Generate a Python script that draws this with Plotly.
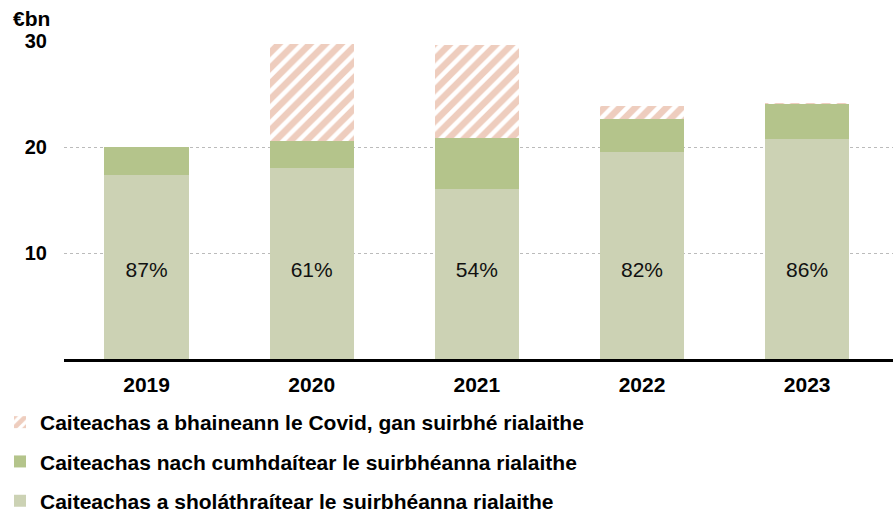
import plotly.graph_objects as go

years = ["2019", "2020", "2021", "2022", "2023"]
regulated = [17.4, 18.0, 16.0, 19.5, 20.8]
not_covered = [2.6, 2.6, 4.85, 3.1, 3.3]
covid = [0.0, 9.1, 8.75, 1.25, 0.05]
pct_labels = ["87%", "61%", "54%", "82%", "86%"]
label_y = [8.2] * 5

name_reg = "Caiteachas a sholáthraítear le suirbhéanna rialaithe"
name_not = "Caiteachas nach cumhdaítear le suirbhéanna rialaithe"
name_cov = "Caiteachas a bhaineann le Covid, gan suirbhé rialaithe"

FONT = "Arial, Liberation Sans, sans-serif"

fig = go.Figure()
fig.add_trace(go.Bar(x=years, y=regulated, name=name_reg, marker=dict(color="#CCD2B4", line=dict(width=0)),
                     legendgroup="a", legendrank=3))
fig.add_trace(go.Bar(x=years, y=not_covered, name=name_not, marker=dict(color="#B4C48B", line=dict(width=0)),
                     legendgroup="b", legendrank=2))
fig.add_trace(go.Bar(x=years, y=covid, name=name_cov,
                     marker=dict(color="white", line=dict(width=0),
                                 pattern=dict(shape="/", fgcolor="#DE9C7E", bgcolor="white",
                                              size=11, solidity=0.6)),
                     legendgroup="c", legendrank=1))
fig.add_trace(go.Scatter(x=years, y=label_y, text=pct_labels, mode="text",
                         textfont=dict(family=FONT, size=21, color="#111111"),
                         showlegend=False, hoverinfo="skip"))

fig.update_layout(
    width=893, height=521,
    margin=dict(l=64, r=0, t=41, b=160),
    barmode="stack", bargap=0.49,
    plot_bgcolor="white", paper_bgcolor="white",
    font=dict(family=FONT, color="black"),
    xaxis=dict(showline=True, linecolor="black", linewidth=2.5, ticks="",
               tickfont=dict(family=FONT, size=21, color="black", weight="bold"),
               range=[-0.5, 4.52], ticklabelstandoff=5),
    yaxis=dict(range=[0, 30], tickvals=[10, 20, 30], showgrid=True, gridcolor="#BBBBBB",
               griddash="dot", gridwidth=1, zeroline=False, showline=False,
               tickfont=dict(family=FONT, size=20, color="black", weight="bold"),
               ticklabelstandoff=16),
    legend=dict(orientation="v", x=-0.0772, xanchor="left", y=-0.137, yanchor="top",
                font=dict(family=FONT, size=21, color="black", weight="bold"),
                tracegroupgap=9, traceorder="grouped", itemwidth=30),
    showlegend=True,
    annotations=[dict(text="<b>€bn</b>", xref="paper", yref="paper", x=-0.014, y=1.072,
                      xanchor="right", yanchor="middle", showarrow=False,
                      font=dict(family=FONT, size=21, color="black"))],
)

fig.write_html("out.html", config={"displayModeBar": False},
               post_script="document.body.style.margin='0';document.body.style.overflow='hidden';")
